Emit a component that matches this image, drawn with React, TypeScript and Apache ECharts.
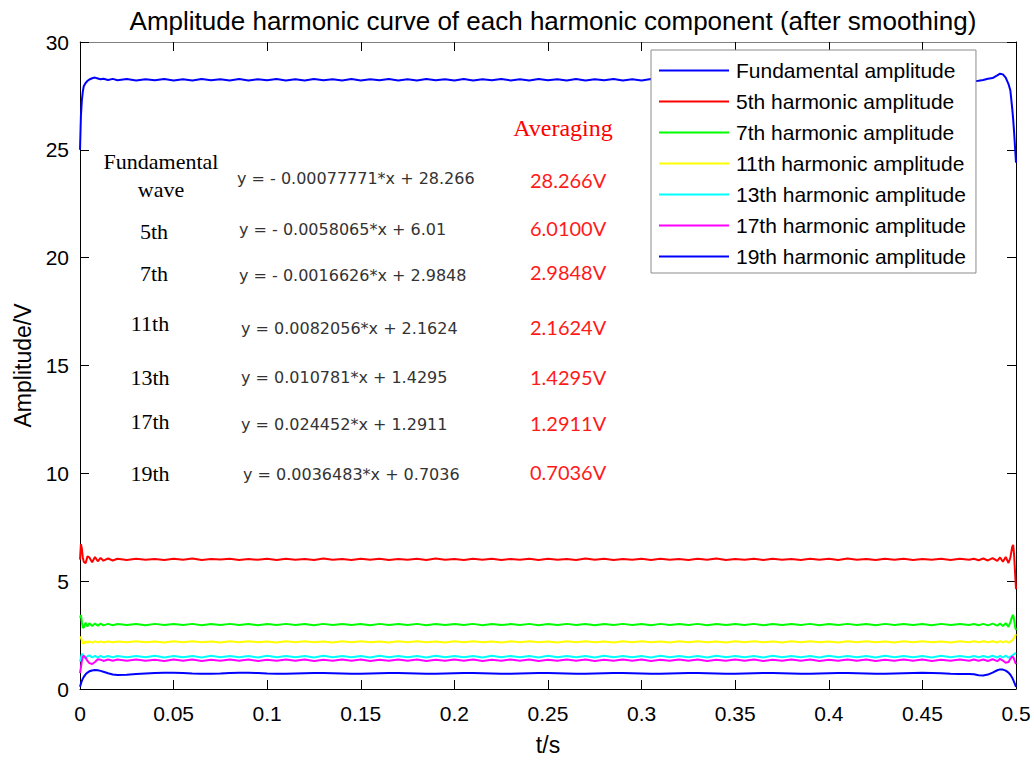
import React, { useEffect, useRef } from "react";
import * as echarts from "echarts";

const TITLE = "Amplitude harmonic curve of each harmonic component (after smoothing)";
const X_NAME = "t/s";
const Y_NAME = "Amplitude/V";

const SERIES_NAMES = [
  "Fundamental amplitude",
  "5th harmonic amplitude",
  "7th harmonic amplitude",
  "11th harmonic amplitude",
  "13th harmonic amplitude",
  "17th harmonic amplitude",
  "19th harmonic amplitude",
];

const ORDER_LABELS = ["Fundamental\nwave", "5th", "7th", "11th", "13th", "17th", "19th"];
const FIT_EQUATIONS = [
  "y = - 0.00077771*x + 28.266",
  "y = - 0.0058065*x + 6.01",
  "y = - 0.0016626*x + 2.9848",
  "y = 0.0082056*x + 2.1624",
  "y = 0.010781*x + 1.4295",
  "y = 0.024452*x + 1.2911",
  "y = 0.0036483*x + 0.7036",
];
const AVERAGES = ["28.266V", "6.0100V", "2.9848V", "2.1624V", "1.4295V", "1.2911V", "0.7036V"];
const AVG_TITLE = "Averaging";

// time stamps (s)
const T = [
  0, 0.0005, 0.001, 0.0015, 0.002, 0.003, 0.004, 0.005, 0.0065, 0.008, 0.0095, 0.011, 0.0125, 0.015, 0.0175, 0.02,
  0.025, 0.03, 0.035, 0.04, 0.045, 0.05, 0.055, 0.06, 0.065, 0.07,
  0.075, 0.08, 0.085, 0.09, 0.095, 0.1, 0.105, 0.11, 0.115, 0.12,
  0.125, 0.13, 0.135, 0.14, 0.145, 0.15, 0.155, 0.16, 0.165, 0.17,
  0.175, 0.18, 0.185, 0.19, 0.195, 0.2, 0.205, 0.21, 0.215, 0.22,
  0.225, 0.23, 0.235, 0.24, 0.245, 0.25, 0.255, 0.26, 0.265, 0.27,
  0.275, 0.28, 0.285, 0.29, 0.295, 0.3, 0.305, 0.31, 0.315, 0.32,
  0.325, 0.33, 0.335, 0.34, 0.345, 0.35, 0.355, 0.36, 0.365, 0.37,
  0.375, 0.38, 0.385, 0.39, 0.395, 0.4, 0.405, 0.41, 0.415, 0.42,
  0.425, 0.43, 0.435, 0.44, 0.445, 0.45, 0.455, 0.46, 0.465, 0.47,
  0.475,
  0.4775, 0.48, 0.4825, 0.485, 0.4875, 0.49, 0.4915, 0.493, 0.4945, 0.496, 0.497, 0.498, 0.4985, 0.499, 0.4995, 0.5,
];

const FUNDAMENTAL = [
  25.0, 26.6, 27.3, 27.7, 27.95, 28.1, 28.2, 28.26, 28.32, 28.35, 28.31, 28.27, 28.3, 28.24, 28.29, 28.23,
  28.28, 28.22, 28.27, 28.23, 28.28, 28.22, 28.27, 28.22, 28.28, 28.23,
  28.27, 28.22, 28.28, 28.22, 28.27, 28.23, 28.28, 28.22, 28.27, 28.22,
  28.28, 28.23, 28.27, 28.22, 28.28, 28.22, 28.27, 28.23, 28.28, 28.22,
  28.27, 28.22, 28.28, 28.23, 28.27, 28.22, 28.28, 28.22, 28.27, 28.23,
  28.28, 28.22, 28.27, 28.22, 28.28, 28.23, 28.27, 28.22, 28.28, 28.22,
  28.27, 28.23, 28.28, 28.22, 28.27, 28.22, 28.28, 28.23, 28.27, 28.22,
  28.28, 28.22, 28.27, 28.23, 28.28, 28.22, 28.27, 28.22, 28.28, 28.23,
  28.27, 28.22, 28.28, 28.22, 28.27, 28.23, 28.28, 28.22, 28.27, 28.22,
  28.28, 28.23, 28.27, 28.22, 28.28, 28.22, 28.27, 28.23, 28.28, 28.22,
  28.27,
  28.18, 28.2, 28.24, 28.3, 28.33, 28.45, 28.53, 28.5, 28.35, 28.05, 27.75, 26.9, 26.4, 25.8, 25.1, 24.4,
];

const H5 = [
  6.0, 6.72, 6.5, 6.1, 5.9, 5.83, 6.15, 6.1, 5.88, 6.12, 5.92, 6.08, 5.95, 6.05, 5.96, 6.04,
  5.98, 6.04, 5.99, 6.03, 5.98, 6.04, 5.99, 6.05, 5.98, 6.03,
  6.0, 6.04, 5.98, 6.03, 5.99, 6.04, 5.98, 6.04, 5.99, 6.03,
  5.98, 6.05, 5.99, 6.03, 5.98, 6.04, 5.99, 6.04, 5.98, 6.03,
  5.99, 6.04, 5.98, 6.05, 5.99, 6.03, 5.98, 6.04, 5.99, 6.04,
  5.98, 6.03, 5.99, 6.04, 5.98, 6.04, 5.99, 6.03, 5.98, 6.05,
  5.99, 6.04, 5.98, 6.03, 5.99, 6.04, 5.98, 6.04, 5.99, 6.03,
  5.98, 6.04, 5.99, 6.05, 5.98, 6.03, 5.99, 6.04, 5.98, 6.04,
  5.99, 6.03, 5.98, 6.04, 5.99, 6.04, 5.98, 6.05, 5.99, 6.03,
  5.98, 6.04, 5.99, 6.04, 5.98, 6.03, 5.99, 6.04, 5.98, 6.04,
  5.99,
  6.04, 5.97, 6.05, 5.96, 6.07, 5.94, 6.1, 5.9, 6.12, 5.84, 6.1, 6.6, 6.68, 6.2, 5.4, 4.63,
];

const H7 = [
  3.3, 3.43, 3.1, 2.85, 2.84, 3.08, 2.9, 3.05, 2.92, 3.04, 2.94, 3.03, 2.95, 3.02, 2.96, 3.01,
  2.97, 3.01, 2.96, 3.02, 2.97, 3.01, 2.97, 3.02, 2.96, 3.01,
  2.97, 3.02, 2.97, 3.01, 2.96, 3.01, 2.97, 3.02, 2.97, 3.01,
  2.96, 3.02, 2.97, 3.01, 2.97, 3.01, 2.96, 3.02, 2.97, 3.01,
  2.97, 3.02, 2.96, 3.01, 2.97, 3.01, 2.97, 3.02, 2.96, 3.01,
  2.97, 3.01, 2.97, 3.02, 2.96, 3.01, 2.97, 3.02, 2.97, 3.01,
  2.96, 3.01, 2.97, 3.02, 2.97, 3.01, 2.96, 3.02, 2.97, 3.01,
  2.97, 3.02, 2.96, 3.01, 2.97, 3.01, 2.97, 3.02, 2.96, 3.01,
  2.97, 3.01, 2.97, 3.02, 2.96, 3.01, 2.97, 3.02, 2.97, 3.01,
  2.96, 3.02, 2.97, 3.01, 2.97, 3.01, 2.96, 3.02, 2.97, 3.01,
  2.97,
  3.01, 2.96, 3.02, 2.95, 3.03, 2.94, 3.04, 2.92, 3.05, 2.88, 3.1, 3.38, 3.43, 3.2, 2.9, 2.73,
];

const H11 = [
  2.42, 2.38, 2.25, 2.12, 2.1, 2.22, 2.14, 2.21, 2.15, 2.21, 2.16, 2.2, 2.16, 2.2, 2.17, 2.2,
  2.17, 2.21, 2.17, 2.2, 2.16, 2.21, 2.17, 2.21, 2.17, 2.2,
  2.16, 2.21, 2.17, 2.21, 2.17, 2.2, 2.16, 2.21, 2.17, 2.21,
  2.17, 2.2, 2.16, 2.21, 2.17, 2.21, 2.17, 2.2, 2.16, 2.21,
  2.17, 2.21, 2.17, 2.2, 2.16, 2.21, 2.17, 2.21, 2.17, 2.2,
  2.16, 2.21, 2.17, 2.21, 2.17, 2.2, 2.16, 2.21, 2.17, 2.21,
  2.17, 2.2, 2.16, 2.21, 2.17, 2.21, 2.17, 2.2, 2.16, 2.21,
  2.17, 2.21, 2.17, 2.2, 2.16, 2.21, 2.17, 2.21, 2.17, 2.2,
  2.16, 2.21, 2.17, 2.21, 2.17, 2.2, 2.16, 2.21, 2.17, 2.21,
  2.17, 2.2, 2.16, 2.21, 2.17, 2.21, 2.17, 2.2, 2.16, 2.21,
  2.17,
  2.21, 2.17, 2.21, 2.17, 2.21, 2.16, 2.22, 2.16, 2.22, 2.15, 2.2, 2.25, 2.3, 2.38, 2.46, 2.55,
];

const H13 = [
  1.27, 1.45, 1.62, 1.6, 1.5, 1.42, 1.52, 1.56, 1.46, 1.54, 1.46, 1.54, 1.47, 1.53, 1.47, 1.53,
  1.47, 1.53, 1.47, 1.54, 1.46, 1.53, 1.47, 1.53, 1.46, 1.54,
  1.47, 1.53, 1.47, 1.53, 1.46, 1.54, 1.47, 1.53, 1.47, 1.53,
  1.46, 1.54, 1.47, 1.53, 1.47, 1.53, 1.46, 1.54, 1.47, 1.53,
  1.47, 1.53, 1.46, 1.54, 1.47, 1.53, 1.47, 1.53, 1.46, 1.54,
  1.47, 1.53, 1.47, 1.53, 1.46, 1.54, 1.47, 1.53, 1.47, 1.53,
  1.46, 1.54, 1.47, 1.53, 1.47, 1.53, 1.46, 1.54, 1.47, 1.53,
  1.47, 1.53, 1.46, 1.54, 1.47, 1.53, 1.47, 1.53, 1.46, 1.54,
  1.47, 1.53, 1.47, 1.53, 1.46, 1.54, 1.47, 1.53, 1.47, 1.53,
  1.46, 1.54, 1.47, 1.53, 1.47, 1.53, 1.46, 1.54, 1.47, 1.53,
  1.47,
  1.53, 1.47, 1.53, 1.47, 1.54, 1.46, 1.54, 1.46, 1.55, 1.45, 1.5, 1.55, 1.58, 1.62, 1.65, 1.68,
];

const H17 = [
  0.74, 1.0, 1.3, 1.48, 1.54, 1.45, 1.3, 1.2, 1.16, 1.25, 1.38, 1.36, 1.3, 1.37, 1.31, 1.37,
  1.31, 1.37, 1.31, 1.36, 1.3, 1.37, 1.31, 1.37, 1.3, 1.36,
  1.31, 1.37, 1.31, 1.37, 1.3, 1.36, 1.31, 1.37, 1.31, 1.37,
  1.3, 1.36, 1.31, 1.37, 1.31, 1.37, 1.3, 1.36, 1.31, 1.37,
  1.31, 1.37, 1.3, 1.36, 1.31, 1.37, 1.31, 1.37, 1.3, 1.36,
  1.31, 1.37, 1.31, 1.37, 1.3, 1.36, 1.31, 1.37, 1.31, 1.37,
  1.3, 1.36, 1.31, 1.37, 1.31, 1.37, 1.3, 1.36, 1.31, 1.37,
  1.31, 1.37, 1.3, 1.36, 1.31, 1.37, 1.31, 1.37, 1.3, 1.36,
  1.31, 1.37, 1.31, 1.37, 1.3, 1.36, 1.31, 1.37, 1.31, 1.37,
  1.3, 1.36, 1.31, 1.37, 1.31, 1.37, 1.3, 1.36, 1.31, 1.37,
  1.31,
  1.37, 1.31, 1.37, 1.3, 1.38, 1.29, 1.4, 1.32, 1.22, 1.25, 1.4, 1.5, 1.48, 1.38, 1.25, 1.16,
];

const H19 = [
  0.1, 0.25, 0.38, 0.48, 0.56, 0.68, 0.76, 0.82, 0.86, 0.88, 0.87, 0.84, 0.8, 0.73, 0.67, 0.65,
  0.66, 0.69, 0.72, 0.74, 0.75, 0.75, 0.74, 0.72, 0.71, 0.71,
  0.72, 0.74, 0.75, 0.75, 0.74, 0.72, 0.71, 0.71, 0.72, 0.73,
  0.74, 0.74, 0.73, 0.72, 0.71, 0.71, 0.72, 0.73, 0.74, 0.74,
  0.73, 0.72, 0.71, 0.71, 0.72, 0.73, 0.74, 0.74, 0.73, 0.72,
  0.71, 0.71, 0.72, 0.73, 0.74, 0.74, 0.73, 0.72, 0.71, 0.71,
  0.72, 0.73, 0.74, 0.74, 0.73, 0.72, 0.71, 0.71, 0.72, 0.73,
  0.74, 0.74, 0.73, 0.72, 0.71, 0.71, 0.72, 0.73, 0.74, 0.74,
  0.73, 0.72, 0.71, 0.71, 0.72, 0.73, 0.74, 0.74, 0.73, 0.72,
  0.71, 0.71, 0.72, 0.73, 0.74, 0.75, 0.74, 0.73, 0.71, 0.7,
  0.7,
  0.68, 0.64, 0.63, 0.67, 0.76, 0.87, 0.91, 0.9, 0.85, 0.76, 0.66, 0.52, 0.42, 0.32, 0.21, 0.1,
];

const SERIES_VALUES = [FUNDAMENTAL, H5, H7, H11, H13, H17, H19];
const SERIES_COLORS = ["#0000ff", "#ff0000", "#00ff00", "#ffff00", "#00ffff", "#ff00ff", "#0000ff"];

const SANS = '"Liberation Sans", Arial, sans-serif';
const SERIF = '"Liberation Serif", "Times New Roman", serif';

export default function App() {
  const ref = useRef<HTMLDivElement>(null);

  useEffect(() => {
    if (!ref.current) return;
    const chart = echarts.init(ref.current, undefined, { renderer: "svg" });

    const series = SERIES_NAMES.map((name, k) => ({
      name,
      type: "line",
      xAxisIndex: 0,
      yAxisIndex: 0,
      showSymbol: false,
      symbol: "none",
      lineStyle: { color: SERIES_COLORS[k], width: 2 },
      itemStyle: { color: SERIES_COLORS[k] },
      data: T.map((t, i) => [t, SERIES_VALUES[k][i]]),
      z: 2 + k,
    }));

    const labelPos = [
      { x: 161, y: 175 },
      { x: 154, y: 231 },
      { x: 154, y: 273 },
      { x: 150, y: 323 },
      { x: 150, y: 377 },
      { x: 150, y: 421 },
      { x: 150, y: 473 },
    ];
    const eqPos = [
      { x: 237, y: 178 },
      { x: 239, y: 229 },
      { x: 239, y: 275 },
      { x: 241, y: 328 },
      { x: 241, y: 377 },
      { x: 241, y: 424 },
      { x: 243, y: 474 },
    ];
    const avgPos = [180, 228, 272, 327, 377, 423, 472];

    const graphic: any[] = [];
    ORDER_LABELS.forEach((txt, i) => {
      graphic.push({
        type: "text",
        x: labelPos[i].x,
        y: labelPos[i].y,
        z: 100,
        style: {
          text: txt,
          font: `22px ${SERIF}`,
          fill: "#000",
          textAlign: "center",
          textVerticalAlign: "middle",
          align: "center",
          verticalAlign: "middle",
          lineHeight: 28,
        },
      });
    });
    FIT_EQUATIONS.forEach((txt, i) => {
      graphic.push({
        type: "text",
        x: eqPos[i].x,
        y: eqPos[i].y,
        z: 100,
        style: {
          text: txt,
          font: `16px "DejaVu Sans", sans-serif`,
          fill: "#333",
          textAlign: "left",
          textVerticalAlign: "middle",
          align: "left",
          verticalAlign: "middle",
        },
      });
    });
    AVERAGES.forEach((txt, i) => {
      graphic.push({
        type: "text",
        x: 530,
        y: avgPos[i],
        z: 100,
        style: {
          text: txt,
          font: `20px Lato, sans-serif`,
          fill: "#ff1a1a",
          textAlign: "left",
          textVerticalAlign: "middle",
          align: "left",
          verticalAlign: "middle",
        },
      });
    });
    graphic.push({
      type: "text",
      x: 563,
      y: 128,
      z: 100,
      style: {
        text: AVG_TITLE,
        font: `24px ${SERIF}`,
        fill: "#ff0000",
        textAlign: "center",
        textVerticalAlign: "middle",
        align: "center",
        verticalAlign: "middle",
      },
    });

    const axisFont = { fontFamily: SANS, fontSize: 21, color: "#000" };

    chart.setOption({
      animation: false,
      backgroundColor: "#ffffff",
      title: {
        text: TITLE,
        left: 548,
        top: 3,
        textAlign: "center",
        textStyle: { fontFamily: SANS, fontSize: 26, fontWeight: "normal", color: "#000" },
      },
      grid: { left: 80, right: 18, top: 42, bottom: 76, containLabel: false },
      legend: {
        data: SERIES_NAMES,
        orient: "vertical",
        left: 651,
        top: 50,
        icon: "rect",
        itemWidth: 70,
        itemHeight: 2,
        itemGap: 10,
        padding: [10, 10, 6, 8],
        backgroundColor: "#ffffff",
        borderColor: "#8c8c8c",
        borderWidth: 1,
        borderRadius: 0,
        textStyle: { fontFamily: SANS, fontSize: 21, color: "#000", lineHeight: 21, padding: [0, 0, 0, 2] },
        z: 50,
      },
      xAxis: [
        {
          type: "value",
          position: "bottom",
          min: 0,
          max: 0.5,
          interval: 0.05,
          name: X_NAME,
          nameLocation: "middle",
          nameGap: 44,
          nameTextStyle: { fontFamily: SANS, fontSize: 23, color: "#000" },
          axisLine: { show: true, onZero: false, lineStyle: { color: "#000", width: 1 } },
          axisTick: { show: true, inside: true, length: 9, lineStyle: { color: "#000" } },
          axisLabel: { ...axisFont, margin: 14 },
          splitLine: { show: false },
        },
        {
          type: "value",
          position: "top",
          min: 0,
          max: 0.5,
          interval: 0.05,
          axisLine: { show: true, onZero: false, lineStyle: { color: "#808080", width: 1 } },
          axisTick: { show: true, inside: true, length: 9, lineStyle: { color: "#000" } },
          axisLabel: { show: false },
          splitLine: { show: false },
        },
      ],
      yAxis: [
        {
          type: "value",
          position: "left",
          min: 0,
          max: 30,
          interval: 5,
          name: Y_NAME,
          nameLocation: "middle",
          nameGap: 44,
          nameTextStyle: { fontFamily: SANS, fontSize: 23, color: "#000" },
          axisLine: { show: true, onZero: false, lineStyle: { color: "#000", width: 1 } },
          axisTick: { show: true, inside: true, length: 9, lineStyle: { color: "#000" } },
          axisLabel: { ...axisFont, margin: 11 },
          splitLine: { show: false },
        },
        {
          type: "value",
          position: "right",
          min: 0,
          max: 30,
          interval: 5,
          axisLine: { show: true, onZero: false, lineStyle: { color: "#000", width: 1 } },
          axisTick: { show: true, inside: true, length: 9, lineStyle: { color: "#000" } },
          axisLabel: { show: false },
          splitLine: { show: false },
        },
      ],
      series,
      graphic,
    });

    return () => {
      chart.dispose();
    };
  }, []);

  return (
    <div
      ref={ref}
      style={{ position: "absolute", left: 0, top: 0, width: 1034, height: 765, background: "#fff" }}
    />
  );
}
